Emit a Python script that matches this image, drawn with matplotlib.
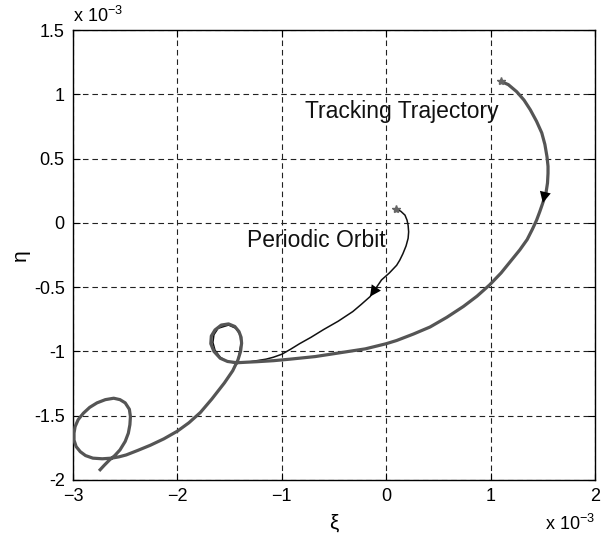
import numpy as np
import matplotlib
matplotlib.use("Agg")
import matplotlib.pyplot as plt

plt.rcParams['font.family'] = ['Liberation Sans', 'DejaVu Sans']
plt.rcParams['mathtext.fontset'] = 'custom'
plt.rcParams['mathtext.rm'] = 'Liberation Sans'

# values in units of 1e-3
track_xi = [1.10, 1.17, 1.25, 1.32, 1.38, 1.44, 1.49, 1.52, 1.54, 1.55, 1.55, 1.545, 1.53,
            1.50, 1.47, 1.44, 1.40, 1.35, 1.28, 1.19, 1.10, 0.99, 0.87, 0.74, 0.58, 0.42,
            0.26, 0.10, 0.0, -0.2, -0.44, -0.68, -0.92, -1.08, -1.24, -1.34, -1.43, -1.52,
            -1.59, -1.65, -1.68, -1.675, -1.64, -1.58, -1.51, -1.45, -1.41, -1.39, -1.385,
            -1.395, -1.42, -1.47, -1.55, -1.67, -1.78, -1.89, -2.0, -2.13, -2.26, -2.38,
            -2.49, -2.56, -2.63, -2.72, -2.81, -2.88, -2.93, -2.97, -2.99, -2.99, -2.98,
            -2.95, -2.90, -2.84, -2.77, -2.69, -2.61, -2.55, -2.50, -2.46, -2.45, -2.455,
            -2.47, -2.50, -2.55, -2.60, -2.65, -2.70, -2.74]
track_eta = [1.10, 1.075, 1.02, 0.955, 0.88, 0.79, 0.70, 0.61, 0.515, 0.44, 0.385, 0.31, 0.23,
             0.155, 0.085, 0.02, -0.05, -0.13, -0.21, -0.30, -0.39, -0.483, -0.57, -0.65,
             -0.735, -0.81, -0.865, -0.915, -0.94, -0.98, -1.01, -1.04, -1.06, -1.072, -1.08,
             -1.084, -1.088, -1.078, -1.053, -1.0, -0.94, -0.88, -0.833, -0.795, -0.786,
             -0.806, -0.846, -0.89, -0.936, -1.0, -1.066, -1.15, -1.245, -1.37, -1.475,
             -1.555, -1.62, -1.68, -1.73, -1.77, -1.805, -1.82, -1.83, -1.835, -1.83, -1.81,
             -1.78, -1.74, -1.69, -1.635, -1.585, -1.53, -1.48, -1.435, -1.40, -1.375, -1.364,
             -1.375, -1.40, -1.45, -1.507, -1.57, -1.636, -1.70, -1.766, -1.81, -1.844,
             -1.885, -1.92]

orbit_xi = [0.094, 0.14, 0.18, 0.20, 0.21, 0.215, 0.21, 0.19, 0.16, 0.13, 0.10, 0.03, -0.045,
            -0.10, -0.155, -0.24, -0.32, -0.46, -0.60, -0.72, -0.83, -0.92, -1.0, -1.08,
            -1.15, -1.30, -1.45, -1.53, -1.59, -1.64, -1.66, -1.65, -1.61, -1.51, -1.44,
            -1.40, -1.39, -1.42]
orbit_eta = [0.108, 0.09, 0.06, 0.02, -0.02, -0.07, -0.12, -0.18, -0.24, -0.29, -0.33, -0.39,
             -0.444, -0.51, -0.574, -0.635, -0.69, -0.765, -0.83, -0.89, -0.94, -0.985, -1.022,
             -1.045, -1.06, -1.08, -1.09, -1.075, -1.045, -0.99, -0.93, -0.87, -0.82, -0.795,
             -0.82, -0.87, -0.94, -1.07]

xticks = [-3, -2, -1, 0, 1, 2]
yticks = [-2, -1.5, -1, -0.5, 0, 0.5, 1, 1.5]
ytick_labels = ['-2', '-1.5', '-1', '-0.5', '0', '0.5', '1', '1.5']

fig = plt.figure(figsize=(6.1, 5.35), dpi=100)
ax = fig.add_axes([73/610, 55/535, 522/610, 450/535])

ax.plot(orbit_xi, orbit_eta, color='#111111', lw=1.1, zorder=3)
ax.plot(track_xi, track_eta, color='#555555', lw=2.3, zorder=4)
ax.plot(track_xi[0], track_eta[0], marker='*', color='#666666', ms=6, zorder=5)
ax.plot(orbit_xi[0], orbit_eta[0], marker='*', color='#666666', ms=6, zorder=5)

# direction arrows
ax.annotate('', xy=(track_xi[13], track_eta[13]), xytext=(track_xi[11], track_eta[11]),
            arrowprops=dict(arrowstyle='-|>', color='k', mutation_scale=20, lw=0,
                            shrinkA=0, shrinkB=0), zorder=6)
ax.annotate('', xy=(orbit_xi[14], orbit_eta[14]), xytext=(orbit_xi[12], orbit_eta[12]),
            arrowprops=dict(arrowstyle='-|>', color='k', mutation_scale=20, lw=0,
                            shrinkA=0, shrinkB=0), zorder=6)

ax.text(-0.78, 0.816, 'Tracking Trajectory', fontsize=16.5, va='baseline', ha='left', color='#111111')
ax.text(-1.336, -0.187, 'Periodic Orbit', fontsize=16.5, va='baseline', ha='left', color='#111111')

ax.set_xlim(-3, 2)
ax.set_ylim(-2, 1.5)
ax.set_xticks(xticks)
ax.set_yticks(yticks)
ax.set_yticklabels(ytick_labels)
ax.tick_params(direction='in', length=5, labelsize=13, pad=6, top=True, right=True)
ax.grid(True, color='#222222', lw=0.8, linestyle=(0, (5, 3.5)))
ax.set_axisbelow(True)
for s in ax.spines.values():
    s.set_linewidth(1.0)

ax.set_xlabel('ξ', fontsize=15, labelpad=6)
ax.set_ylabel('η', fontsize=15, labelpad=3)

ax.text(0.0, 1.01, r'x 10$^{-3}$', transform=ax.transAxes, fontsize=13, ha='left', va='bottom')
ax.text(1.0, -0.075, r'x 10$^{-3}$', transform=ax.transAxes, fontsize=13, ha='right', va='top')

fig.savefig('out.png', dpi=100)
